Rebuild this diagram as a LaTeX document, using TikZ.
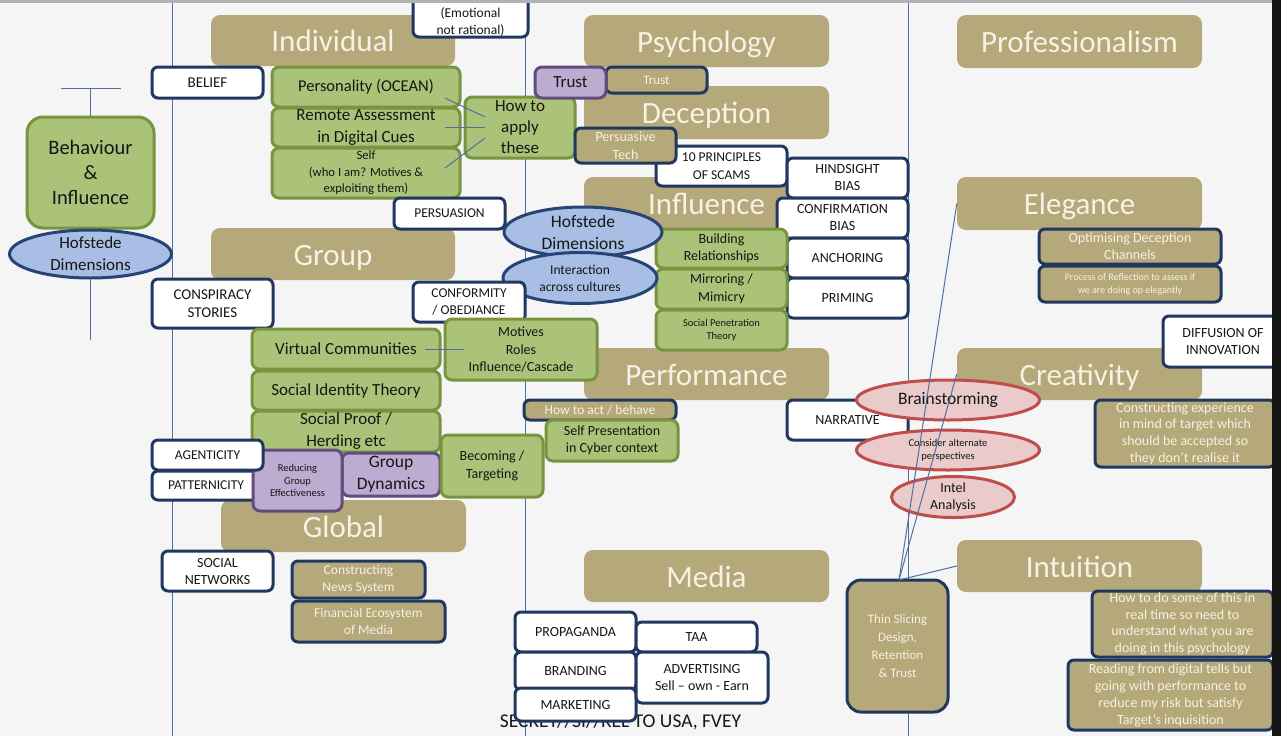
\documentclass[tikz,border=0pt]{standalone}
\usepackage{fontspec}
\setmainfont{Carlito}
\usetikzlibrary{shapes.geometric}
\definecolor{bgc}{RGB}{245,245,245}
\definecolor{hdrc}{RGB}{181,168,122}
\definecolor{cream}{RGB}{246,242,228}
\definecolor{gfill}{RGB}{170,195,120}
\definecolor{gline}{RGB}{120,148,62}
\definecolor{navy}{RGB}{32,56,96}
\definecolor{pfill}{RGB}{190,171,210}
\definecolor{pline}{RGB}{98,76,124}
\definecolor{efill}{RGB}{168,190,228}
\definecolor{eline}{RGB}{38,68,116}
\definecolor{rfill}{RGB}{234,202,202}
\definecolor{rline}{RGB}{190,78,78}
\definecolor{lc}{RGB}{80,112,165}
\definecolor{txt}{RGB}{22,22,22}
\newcommand{\fz}[2]{\fontsize{#1}{#2}\selectfont}
% style, name, x1, y1, x2, y2, text
\newcommand{\mybox}[7]{\node[#1, minimum width={(#5)-(#3)}, minimum height={(#6)-(#4)}] (#2) at ({((#3)+(#5))/2},{((#4)+(#6))/2}) {#7};}
% style, name, cx, cy, w, h, font, text
\newcommand{\myell}[8]{\node[#1, minimum width=#5, minimum height=#6] (#2) at (#3,#4) {};
  \node[align=center, inner sep=0pt, text=txt, font=#7] (#2-t) at (#2) {#8};}
\begin{document}
\begin{tikzpicture}[x=1pt,y=-1pt,
  hdr/.style={fill=hdrc, rounded corners=9pt, text=cream, inner sep=0pt, text height=24pt, text depth=2pt, font=\fz{31}{34}},
  gbox/.style={fill=gfill, draw=gline, line width=3pt, rounded corners=7pt, align=center, inner sep=0pt, text=txt},
  nbox/.style={fill=white, draw=navy, line width=3pt, rounded corners=6pt, align=center, inner sep=0pt, text=txt},
  tbox/.style={fill=hdrc, draw=navy, line width=3pt, rounded corners=6pt, align=center, inner sep=0pt, text=cream},
  pbox/.style={fill=pfill, draw=pline, line width=3pt, rounded corners=7pt, align=center, inner sep=0pt, text=txt},
  bell/.style={ellipse, fill=efill, draw=eline, line width=3pt, inner sep=0pt},
  rell/.style={ellipse, fill=rfill, draw=rline, line width=3pt, inner sep=0pt},
  conn/.style={draw=lc, line width=1pt}]
\useasboundingbox (0,0) rectangle (1281,736);
\fill[bgc] (0,0) rectangle (1281,736);
% column lines
\coordinate (c1t) at (172,0); \coordinate (c1b) at (172,736);
\coordinate (c2t) at (525,0); \coordinate (c2b) at (525,736);
\coordinate (c3t) at (908,0); \coordinate (c3b) at (908,736);
\draw[conn] (c1t) -- (c1b);
\draw[conn] (c2t) -- (c2b);
\draw[conn] (c3t) -- (c3b);
% classification line
\node[anchor=base, inner sep=0pt, text=txt, font=\fz{19.5}{22}] (secret) at (620.5,727) {SECRET//SI//REL TO USA, FVEY};
% headers
\mybox{hdr}{indiv}{211}{15}{455}{66}{Individual}
\mybox{hdr}{group}{211}{228}{455}{280}{Group}
\mybox{hdr}{global}{221}{500}{466}{552}{Global}
\mybox{hdr}{psych}{584}{15}{829}{67}{Psychology}
\mybox{hdr}{decep}{584}{86}{829}{139}{Deception}
\mybox{hdr}{influ}{584}{177}{829}{229}{Influence}
\mybox{hdr}{perf}{584}{348}{829}{400}{Performance}
\mybox{hdr}{media}{584}{550}{829}{602}{Media}
\mybox{hdr}{prof}{957}{15}{1202}{68}{Professionalism}
\mybox{hdr}{eleg}{957}{177}{1202}{230}{Elegance}
\mybox{hdr}{creat}{957}{348}{1202}{400}{Creativity}
\mybox{hdr}{intu}{957}{540}{1202}{592}{Intuition}
% individual column
\mybox{nbox}{emot}{413}{-6}{528}{37}{}
\node[align=center, inner sep=0pt, text=txt, font=\fz{13.5}{16.5}] (emot-t) at (470.5,22) {(Emotional\\not rational)};
\mybox{nbox,font=\fz{15}{18}}{belief}{152}{67}{263}{98}{BELIEF}
\mybox{gbox,font=\fz{16.5}{20}}{pers}{272}{67}{460}{107}{Personality (OCEAN)}
\mybox{gbox,font=\fz{17}{22}}{remote}{272}{108}{460}{147}{Remote Assessment\\in Digital Cues}
\mybox{gbox,font=\fz{12.7}{16.5}}{self}{272}{148}{460}{198}{Self\\(who I am? Motives \&\\exploiting them)}
\mybox{gbox,font=\fz{17}{21}}{howto}{465}{97}{575}{158}{How to\\apply\\these}
\mybox{nbox,font=\fz{13.5}{16}}{persu}{394}{198}{505}{229}{PERSUASION}
% psychology column
\mybox{tbox,font=\fz{13}{15}}{trustT}{606}{67}{707}{93}{Trust}
\mybox{pbox,font=\fz{17}{20}}{trustP}{535}{67}{606}{98}{Trust}
\mybox{nbox,font=\fz{13.5}{17.5}}{tenp}{656}{146}{787}{186}{10 PRINCIPLES\\OF SCAMS}
\mybox{tbox,font=\fz{14}{18}}{persT}{575}{128}{676}{163}{Persuasive\\Tech}
\mybox{nbox,font=\fz{14}{17}}{hind}{787}{158}{908}{198}{HINDSIGHT\\BIAS}
\mybox{nbox,font=\fz{14}{17}}{confirm}{777}{198}{908}{238}{CONFIRMATION\\BIAS}
\mybox{nbox,font=\fz{14}{17}}{anch}{787}{238}{908}{278}{ANCHORING}
\mybox{nbox,font=\fz{14}{17}}{prim}{787}{278}{908}{318}{PRIMING}
\mybox{gbox,font=\fz{14}{17}}{build}{656}{229}{787}{268}{Building\\Relationships}
\mybox{gbox,font=\fz{14}{17.5}}{mirror}{656}{269}{787}{309}{Mirroring /\\Mimicry}
\mybox{gbox,font=\fz{10.5}{13.5}}{socpen}{656}{310}{787}{350}{Social Penetration\\Theory}
\myell{bell}{hofM}{583}{232}{158}{50}{\fz{17.5}{22}}{Hofstede\\Dimensions}
\myell{bell}{inter}{580}{278}{154}{51}{\fz{13.5}{17}}{Interaction\\across cultures}
% group column
\mybox{nbox,font=\fz{15}{18.5}}{consp}{152}{279}{273}{328}{CONSPIRACY\\STORIES}
\mybox{nbox,font=\fz{13.5}{17}}{conf}{413}{282}{525}{322}{CONFORMITY\\/ OBEDIANCE}
\mybox{gbox,font=\fz{17}{20}}{virt}{252}{329}{440}{369}{Virtual Communities}
\mybox{gbox,font=\fz{17}{20}}{sit}{252}{371}{440}{410}{Social Identity Theory}
\mybox{gbox,font=\fz{17}{22}}{sproof}{252}{411}{440}{452}{Social Proof /\\Herding etc}
\mybox{gbox,font=\fz{14}{17.5}}{motives}{445}{319}{597}{380}{Motives\\Roles\\Influence/Cascade}
\mybox{nbox,font=\fz{13.5}{16}}{patt}{152}{471}{260}{500}{PATTERNICITY}
\mybox{pbox,font=\fz{17.5}{22}}{gdyn}{342}{453}{440}{496}{Group\\Dynamics}
\mybox{pbox,font=\fz{10.5}{12.5}}{reduce}{253}{450}{342}{511}{Reducing\\Group\\Effectiveness}
\mybox{nbox,font=\fz{13.5}{16}}{agent}{152}{440}{263}{470}{AGENTICITY}
\mybox{gbox,font=\fz{14}{17.5}}{becom}{441}{435}{543}{497}{Becoming /\\Targeting}
% global
\mybox{nbox,font=\fz{14}{17}}{socnet}{162}{551}{273}{591}{SOCIAL\\NETWORKS}
\mybox{tbox,font=\fz{13.5}{17}}{cnews}{292}{561}{425}{598}{Constructing\\News System}
\mybox{tbox,font=\fz{13.5}{17}}{fineco}{292}{601}{445}{642}{Financial Ecosystem\\of Media}
% performance
\mybox{tbox,font=\fz{13.5}{16}}{howact}{524}{400}{676}{420}{How to act / behave}
\mybox{gbox,font=\fz{14}{17}}{selfpres}{546}{420}{678}{461}{Self Presentation\\in Cyber context}
\mybox{nbox,font=\fz{14}{17}}{narr}{787}{400}{908}{440}{NARRATIVE}
% right column
\mybox{tbox,font=\fz{14}{17}}{optim}{1039}{229}{1221}{264}{Optimising Deception\\Channels}
\mybox{tbox,font=\fz{10}{13}}{proc}{1039}{266}{1221}{302}{Process of Reflection to assess if\\we are doing op elegantly}
\mybox{nbox,font=\fz{14}{17}}{diff}{1163}{316}{1283}{367}{DIFFUSION OF\\INNOVATION}
\mybox{tbox,font=\fz{14}{16.7}}{cexp}{1095}{400}{1275}{467}{Constructing experience\\in mind of target which\\should be accepted so\\they don’t realise it}
\mybox{tbox,font=\fz{14}{16.5}}{howdo}{1092}{591}{1273}{657}{How to do some of this in\\real time so need to\\understand what you are\\doing in this psychology}
\mybox{tbox,font=\fz{14}{17}}{readdig}{1068}{660}{1273}{730}{Reading from digital tells but\\going with performance to\\reduce my risk but satisfy\\Target’s inquisition}
\mybox{tbox,font=\fz{13}{18},rounded corners=14pt}{thin}{847}{580}{948}{712}{Thin Slicing\\Design,\\Retention\\\& Trust}
% media
\mybox{nbox,font=\fz{14}{17}}{prop}{515}{612}{636}{652}{PROPAGANDA}
\mybox{nbox,font=\fz{14}{17}}{brand}{515}{652}{636}{690}{BRANDING}
\mybox{nbox,font=\fz{14}{17}}{mark}{515}{688}{636}{721}{MARKETING}
\mybox{nbox,font=\fz{14}{17}}{taa}{636}{622}{757}{652}{TAA}
\mybox{nbox,font=\fz{14}{17}}{adv}{636}{652}{768}{703}{ADVERTISING\\Sell – own - Earn}
% left tree
\mybox{gbox,font=\fz{20.5}{25},rounded corners=16pt}{beh}{27}{117}{154}{228}{Behaviour\\\&\\Influence}
\myell{bell}{hofL}{90.5}{254}{162}{48}{\fz{17}{22}}{Hofstede\\Dimensions}
\coordinate (tl) at (61,88); \coordinate (tr) at (121,88); \coordinate (tm) at (90.5,88);
\coordinate (lb) at (90.5,340);
\draw[conn] (tl) -- (tr);
\draw[conn] (tm) -- (beh.north);
\draw[conn] (hofL.south) -- (lb);
% creativity ellipses
\myell{rell}{brain}{948}{400}{183}{40}{\fz{17.5}{20}}{Brainstorming}
\myell{rell}{consid}{948}{450}{183}{40}{\fz{10.5}{13}}{Consider alternate\\perspectives}
\myell{rell}{intel}{953}{497}{123}{41}{\fz{14}{17}}{Intel\\Analysis}
% connectors
\coordinate (a1) at (445,98); \coordinate (b1) at (485,117);
\coordinate (a2) at (445,127); \coordinate (b2) at (485,127);
\coordinate (a3) at (445,168); \coordinate (b3) at (485,138);
\draw[conn] (a1) -- (b1);
\draw[conn] (a2) -- (b2);
\draw[conn] (a3) -- (b3);
\coordinate (v1) at (425,349); \coordinate (v2) at (464,349);
\draw[conn] (v1) -- (v2);
\coordinate (thtop) at (899,580);
\draw[conn] (thtop) -- (eleg.west);
\draw[conn] (thtop) -- (creat.west);
\draw[conn] (thtop) -- (intu.west);
% frame edges
\fill[black!30] (0,0) rectangle (1281,2.5);
\fill[black!92] (1272,0) rectangle (1281,736);
\end{tikzpicture}
\end{document}
